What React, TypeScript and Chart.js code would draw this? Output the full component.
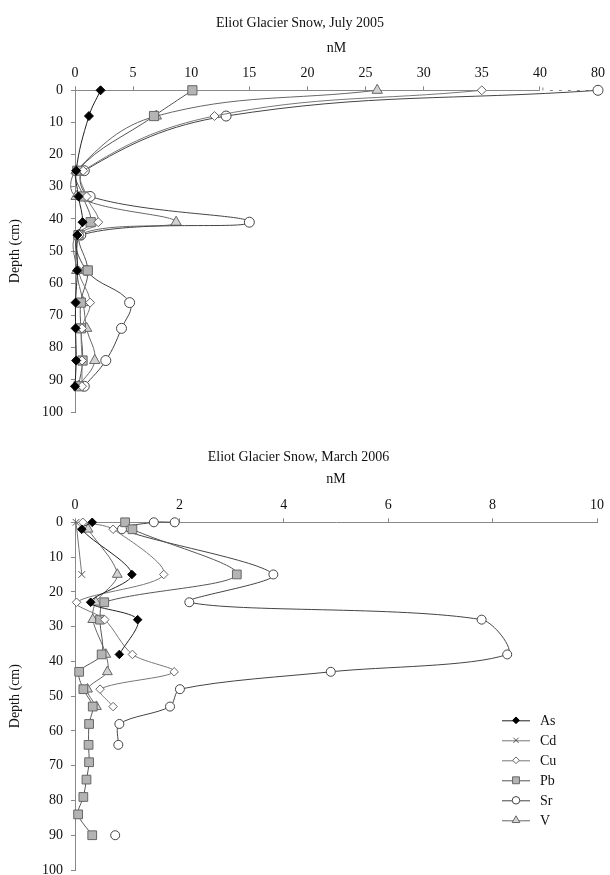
import React, { useEffect, useRef } from 'react';
import { Chart, registerables } from 'chart.js';
import { drawPoint } from 'chart.js/helpers';

Chart.register(...registerables);

const FONT = '"Liberation Serif", "Times New Roman", serif';

// ---- July 2005 (top panel) ----
const julyTitle = 'Eliot Glacier Snow, July 2005';
const julyDepth = [0, 8, 25, 33, 41, 45, 56, 66, 74, 84, 92];
const julyAs = [2.2, 1.2, 0.1, 0.3, 0.65, 0.2, 0.2, 0.05, 0.05, 0.1, 0.0];
const julyCu = [35, 12, 0.7, 1.0, 2.0, 0.4, 0.3, 1.3, 0.6, 0.6, 0.6];
const julyPb = [10.1, 6.8, 0.2, 0.7, 1.35, 0.3, 1.1, 0.5, 0.5, 0.65, 0.3];
const julySr = [80, 13, 0.8, 1.3, 15, 0.5, 1.0, 4.7, 4.0, 2.65, 0.8];
const julyV = [26, 7.0, 0.1, 0.1, 8.7, 0.3, 0.15, 0.7, 1.0, 1.7, 0.3];
const julyTicks = [0, 5, 10, 15, 20, 25, 30, 35, 40, 80];
const julyBreak = 40; // axis broken between 40 and 80

// ---- March 2006 (bottom panel) ----
const marchTitle = 'Eliot Glacier Snow, March 2006';
const marchAsDepth = [0, 2, 15, 23, 28, 38];
const marchAs = [0.33, 0.13, 1.09, 0.3, 1.2, 0.85];
const marchCdDepth = [0, 15];
const marchCd = [0.02, 0.13];
const marchCuDepth = [0, 2, 15, 23, 28, 38, 43, 48, 53];
const marchCu = [0.15, 0.73, 1.7, 0.03, 0.57, 1.1, 1.9, 0.48, 0.73];
const marchPbDepth = [0, 2, 15, 23, 28, 38, 43, 48, 53, 58, 64, 69, 74, 79, 84, 90];
const marchPb = [0.96, 1.1, 3.1, 0.56, 0.48, 0.51, 0.08, 0.16, 0.34, 0.27, 0.26, 0.27, 0.22, 0.16, 0.06, 0.33];
const marchSrDepth = [0, 0, 2, 15, 23, 28, 38, 43, 48, 53, 58, 64, 77, 90];
const marchSr = [1.91, 1.51, 0.9, 3.8, 2.19, 7.79, 8.28, 4.9, 2.01, 1.82, 0.85, 0.83, null, 0.77];
const marchVDepth = [2, 15, 23, 28, 38, 43, 48, 53];
const marchV = [0.25, 0.81, 0.4, 0.34, 0.59, 0.62, 0.24, 0.41];

const legendNames = ['As', 'Cd', 'Cu', 'Pb', 'Sr', 'V'];
const depthAxisTitle = 'Depth (cm)';
const unitTitle = 'nM';

type Sty = { pointStyle: any; radius: number; fill: string; stroke: string; line: string };
const STYLE: Record<string, Sty> = {
  As: { pointStyle: 'rectRot', radius: 4.5, fill: '#000', stroke: '#000', line: '#222' },
  Cd: { pointStyle: 'crossRot', radius: 5, fill: '#666', stroke: '#555', line: '#777' },
  Cu: { pointStyle: 'rectRot', radius: 4.5, fill: '#fff', stroke: '#666', line: '#777' },
  Pb: { pointStyle: 'rect', radius: 6.5, fill: '#b4b4b4', stroke: '#666', line: '#555' },
  Sr: { pointStyle: 'circle', radius: 5, fill: '#fff', stroke: '#444', line: '#444' },
  V: { pointStyle: 'triangle', radius: 6, fill: '#d2d2d2', stroke: '#666', line: '#666' },
};

// broken axis transform (40..80 compressed into 40..45)
const brk = (v: number) => (v <= julyBreak ? v : julyBreak + (v - julyBreak) / 8);

function ds(name: string, depths: number[], values: (number | null)[], tf: (v: number) => number, k: number, tension: number) {
  const s = STYLE[name];
  return {
    label: name,
    data: depths.map((d, i) => ({ x: values[i] == null ? null : tf(values[i] as number), y: d })),
    borderColor: s.line,
    borderWidth: 1,
    backgroundColor: s.fill,
    pointStyle: s.pointStyle,
    pointRadius: s.radius * k,
    pointBackgroundColor: s.fill,
    pointBorderColor: s.stroke,
    pointBorderWidth: 1,
    tension,
    fill: false,
    clip: false as any,
    spanGaps: false,
  };
}

const brokenAxisPlugin = {
  id: 'brokenAxis',
  beforeDatasetsDraw(chart: any) {
    const xs = chart.scales.x;
    const top = Math.round(chart.chartArea.top) + 0.5;
    const ctx = chart.ctx;
    ctx.save();
    ctx.strokeStyle = '#888';
    ctx.lineWidth = 1;
    const p0 = xs.getPixelForValue(0);
    const p40 = xs.getPixelForValue(julyBreak);
    const pEnd = xs.getPixelForValue(brk(80));
    ctx.beginPath();
    ctx.moveTo(p0, top);
    ctx.lineTo(p40, top);
    ctx.stroke();
    ctx.beginPath();
    ctx.moveTo(p40 + 3, top - 3);
    ctx.lineTo(p40 + 3, top);
    ctx.stroke();
    ctx.setLineDash([3, 6]);
    ctx.beginPath();
    ctx.moveTo(p40 + 10, top);
    ctx.lineTo(pEnd, top);
    ctx.stroke();
    ctx.restore();
  },
};

const legendPlugin = {
  id: 'seriesLegend',
  afterDraw(chart: any) {
    const { ctx, chartArea } = chart;
    const x0 = chartArea.right - 95;
    const x1 = chartArea.right - 67;
    legendNames.forEach((name, i) => {
      const y = chartArea.top + 198 + i * 20;
      const s = STYLE[name];
      ctx.save();
      ctx.strokeStyle = s.line;
      ctx.lineWidth = 1;
      ctx.beginPath();
      ctx.moveTo(x0, y + 0.5);
      ctx.lineTo(x1, y + 0.5);
      ctx.stroke();
      ctx.fillStyle = s.fill;
      ctx.strokeStyle = s.stroke;
      drawPoint(ctx, { pointStyle: s.pointStyle, radius: s.radius * 0.75, rotation: 0, borderWidth: 1 } as any, (x0 + x1) / 2, y);
      ctx.fillStyle = '#111';
      ctx.font = `14px ${FONT}`;
      ctx.textBaseline = 'middle';
      ctx.textAlign = 'left';
      ctx.fillText(name, x1 + 10, y + 1);
      ctx.restore();
    });
  },
};

function baseOptions(title: string, titlePad: { top: number; bottom: number }, xHeight: number, pad: any, xOpts: any, capBezier: boolean) {
  return {
    responsive: false,
    animation: false as const,
    events: [] as any,
    layout: { padding: pad },
    elements: { line: { capBezierPoints: capBezier } },
    plugins: {
      legend: { display: false },
      tooltip: { enabled: false },
      title: {
        display: true,
        text: title,
        color: '#111',
        font: { family: FONT, size: 14, weight: 'normal' as const },
        padding: titlePad,
      },
    },
    scales: {
      x: {
        type: 'linear' as const,
        position: 'top' as const,
        ...xOpts,
        grid: { display: true, drawOnChartArea: false, drawTicks: true, tickLength: 4, color: '#888' },
        title: { display: true, text: unitTitle, color: '#111', font: { family: FONT, size: 14 }, padding: { top: 4, bottom: 4 } },
        afterFit: (s: any) => {
          s.height = xHeight;
        },
      },
      y: {
        type: 'linear' as const,
        reverse: true,
        min: 0,
        max: 100,
        ticks: { stepSize: 10, color: '#111', font: { family: FONT, size: 14 }, padding: 8 },
        border: { display: true, color: '#888' },
        grid: { display: true, drawOnChartArea: false, drawTicks: true, tickLength: 4, color: '#888' },
        title: { display: true, text: depthAxisTitle, color: '#111', font: { family: FONT, size: 14 }, padding: { top: 7, bottom: 4 } },
        afterFit: (s: any) => {
          s.width = 75;
        },
      },
    },
  };
}

export default function App() {
  const topRef = useRef<HTMLCanvasElement>(null);
  const botRef = useRef<HTMLCanvasElement>(null);

  useEffect(() => {
    const tId = (v: number) => v;
    const topCfg: any = {
      type: 'line',
      data: {
        datasets: [
          ds('As', julyDepth, julyAs, brk, 1, 0.4),
          ds('Cu', julyDepth, julyCu, brk, 1, 0.4),
          ds('Pb', julyDepth, julyPb, brk, 1, 0.4),
          ds('Sr', julyDepth, julySr, brk, 1, 0.4),
          ds('V', julyDepth, julyV, brk, 1, 0.4),
        ],
      },
      options: baseOptions(
        julyTitle,
        { top: 15, bottom: 4.5 },
        54,
        { left: 0, right: 10, top: 0, bottom: 18 },
        {
          min: 0,
          max: brk(80),
          afterBuildTicks: (s: any) => {
            s.ticks = julyTicks.map((v) => ({ value: brk(v) }));
          },
          ticks: {
            color: '#111',
            font: { family: FONT, size: 14 },
            padding: 5,
            callback: (v: number) => {
              const i = julyTicks.findIndex((t) => Math.abs(brk(t) - v) < 1e-6);
              return i >= 0 ? String(julyTicks[i]) : '';
            },
          },
          border: { display: false },
        },
        false
      ),
      plugins: [brokenAxisPlugin],
    };
    const botCfg: any = {
      type: 'line',
      data: {
        datasets: [
          ds('As', marchAsDepth, marchAs, tId, 0.95, 0.3),
          ds('Cd', marchCdDepth, marchCd, tId, 0.95, 0.3),
          ds('Cu', marchCuDepth, marchCu, tId, 0.95, 0.3),
          ds('Pb', marchPbDepth, marchPb, tId, 0.95, 0.3),
          ds('Sr', marchSrDepth, marchSr, tId, 0.9, 0.3),
          ds('V', marchVDepth, marchV, tId, 0.95, 0.3),
        ],
      },
      options: baseOptions(
        marchTitle,
        { top: 19, bottom: 1.5 },
        55,
        { left: 0, right: 13, top: 0, bottom: 30 },
        {
          min: 0,
          max: 10,
          ticks: { stepSize: 2, color: '#111', font: { family: FONT, size: 14 }, padding: 5 },
          border: { display: true, color: '#888' },
        },
        false
      ),
      plugins: [legendPlugin],
    };
    const c1 = new Chart(topRef.current as HTMLCanvasElement, topCfg);
    const c2 = new Chart(botRef.current as HTMLCanvasElement, botCfg);
    return () => {
      c1.destroy();
      c2.destroy();
    };
  }, []);

  return (
    <div style={{ position: 'absolute', left: 0, top: 0, width: 610, height: 875, overflow: 'hidden', background: '#fff' }}>
      <canvas ref={topRef} width={610} height={430} style={{ position: 'absolute', left: 0, top: 0, width: 610, height: 430 }} />
      <canvas ref={botRef} width={610} height={470} style={{ position: 'absolute', left: 0, top: 430, width: 610, height: 470 }} />
    </div>
  );
}
